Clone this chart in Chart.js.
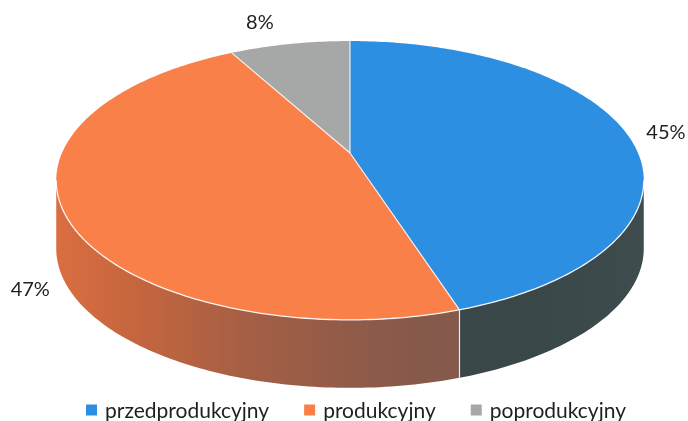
<!DOCTYPE html>
<html><head><meta charset="utf-8">
<script src="https://cdn.jsdelivr.net/npm/chart.js@4.4.1/dist/chart.umd.min.js"></script>
<style>html,body{margin:0;padding:0;background:#fff}#c{display:block}</style>
</head><body>
<canvas id="c" width="688" height="421"></canvas>
<script>
// ---- data ----
const categories = ['przedprodukcyjny', 'produkcyjny', 'poprodukcyjny'];
const shares = [45, 47, 8];
const pctLabels = ['45%', '47%', '8%'];

// ---- styles ----
const topColors = ['#2C8FE2', '#F98048', '#A6A8A8'];
const legendColors = ['#2C8FE2', '#F98048', '#A6A8A8'];
const sideStops = [
  [[0, '#394749'], [0.8, '#394749'], [1, '#3E4C4D']],
  [[0, '#DA6E40'], [0.15, '#C2653F'], [0.35, '#A15E45'], [0.6, '#87594B'], [1, '#7C5A4E']],
  [[0, '#7E8080'], [1, '#7E8080']]
];
const labelShift = [[40, 0], [-33, 79], [-30, -21]];
// perspective view of the pie plane: apex (cx, cy), half-axes kx, ky, tilt t, wall depth
const VIEW = { cx: 350, cy: 153, kx: 288, ky: 134, t: 0.197, depth: 68 };
const FONT = "Lato, 'Noto Sans', sans-serif";
const TEXT = '#1f1f1f';

function rim(a, dy) {
  const u = Math.cos(a), v = Math.sin(a), w = 1 - VIEW.t * v;
  return { x: VIEW.cx + VIEW.kx * u / w, y: VIEW.cy + VIEW.ky * v / w + (dy || 0) };
}
function rimPath(ctx, a1, a2, dy, first) {
  const n = Math.max(4, Math.ceil(Math.abs(a2 - a1) * 60));
  for (let k = 0; k <= n; k++) {
    const p = rim(a1 + (a2 - a1) * k / n, dy);
    if (k === 0 && first) ctx.moveTo(p.x, p.y); else ctx.lineTo(p.x, p.y);
  }
}

// Arc element drawn in perspective (angles come from Chart.js' pie controller)
class Arc3D extends Chart.ArcElement {
  draw(ctx) {
    const o = this.options;
    ctx.save();
    ctx.beginPath();
    ctx.moveTo(VIEW.cx, VIEW.cy);
    rimPath(ctx, this.startAngle, this.endAngle, 0, false);
    ctx.closePath();
    ctx.fillStyle = o.backgroundColor;
    ctx.fill();
    ctx.restore();
  }
}
Arc3D.id = 'arc3d';
class Pie3DController extends Chart.PieController {}
Pie3DController.id = 'pie3d';
Pie3DController.defaults = { dataElementType: 'arc3d' };
Chart.register(Arc3D, Pie3DController);

const walls = {
  id: 'walls',
  beforeDatasetsDraw(chart) {
    const ctx = chart.ctx, meta = chart.getDatasetMeta(0);
    const lo = Math.asin(VIEW.t), hi = Math.PI - lo, D = VIEW.depth;
    meta.data.forEach((arc, i) => {
      const a1 = Math.max(arc.startAngle, lo), a2 = Math.min(arc.endAngle, hi);
      if (a2 <= a1) return;
      const g = ctx.createLinearGradient(VIEW.cx - 294, 0, VIEW.cx + 294, 0);
      sideStops[i].forEach(s => g.addColorStop(s[0], s[1]));
      ctx.beginPath();
      rimPath(ctx, a1, a2, 0, true);
      rimPath(ctx, a2, a1, D, false);
      ctx.closePath();
      ctx.fillStyle = g;
      ctx.fill();
    });
    ctx.strokeStyle = 'rgba(255,255,255,0.85)';
    ctx.lineWidth = 1.2;
    meta.data.forEach(arc => {
      const a = arc.startAngle;
      if (a > lo && a < hi) {
        const p = rim(a);
        ctx.beginPath(); ctx.moveTo(p.x, p.y); ctx.lineTo(p.x, p.y + D); ctx.stroke();
      }
    });
  },
  afterDatasetsDraw(chart) {
    const ctx = chart.ctx, meta = chart.getDatasetMeta(0);
    const lo = Math.asin(VIEW.t), hi = Math.PI - lo;
    ctx.strokeStyle = 'rgba(255,255,255,0.85)';
    ctx.lineWidth = 1.2;
    meta.data.forEach(arc => {
      const p = rim(arc.startAngle);
      ctx.beginPath(); ctx.moveTo(VIEW.cx, VIEW.cy); ctx.lineTo(p.x, p.y); ctx.stroke();
    });
    ctx.strokeStyle = 'rgba(255,255,255,0.9)';
    ctx.lineWidth = 1.3;
    ctx.beginPath(); rimPath(ctx, lo, hi, 0, true); ctx.stroke();
    // percentage labels
    ctx.fillStyle = TEXT;
    ctx.font = '20px ' + FONT;
    ctx.textAlign = 'center'; ctx.textBaseline = 'middle';
    meta.data.forEach((arc, i) => {
      const p = rim((arc.startAngle + arc.endAngle) / 2);
      ctx.fillText(pctLabels[i], p.x + labelShift[i][0], p.y + labelShift[i][1]);
    });
    // legend
    ctx.font = '21px ' + FONT;
    ctx.textAlign = 'left';
    const box = 11, gap = 8, itemGap = 35, ly = 410;
    const widths = categories.map(t => ctx.measureText(t).width);
    const total = widths.reduce((s, w) => s + box + gap + w, 0) + itemGap * (categories.length - 1);
    let x = 356 - total / 2;
    categories.forEach((t, i) => {
      ctx.fillStyle = legendColors[i];
      ctx.fillRect(x, ly - box / 2, box, box);
      ctx.fillStyle = TEXT;
      ctx.fillText(t, x + box + gap, ly + 1);
      x += box + gap + widths[i] + itemGap;
    });
  }
};

new Chart(document.getElementById('c'), {
  type: 'pie3d',
  data: {
    labels: categories,
    datasets: [{ data: shares, backgroundColor: topColors, borderWidth: 0 }]
  },
  options: {
    responsive: false,
    animation: false,
    events: [],
    layout: { padding: 10 },
    plugins: { legend: { display: false }, tooltip: { enabled: false } }
  },
  plugins: [walls]
});
</script>
</body></html>
